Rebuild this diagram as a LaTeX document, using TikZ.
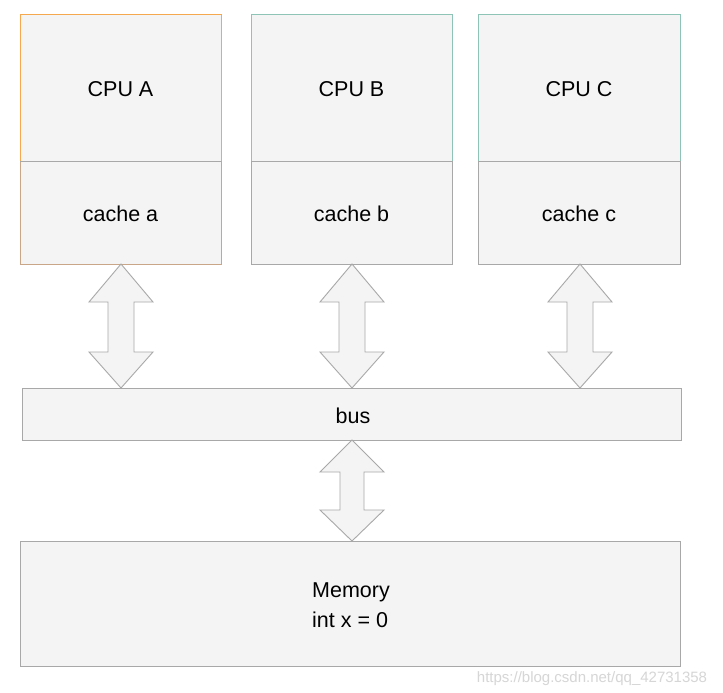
\documentclass[tikz,border=0pt]{standalone}
\usepackage{fontspec}
\setmainfont{Liberation Sans}
\definecolor{boxfill}{HTML}{F4F4F4}
\definecolor{orangeb}{HTML}{F5A84E}
\definecolor{tealb}{HTML}{8DC4B6}
\definecolor{grayb}{HTML}{A8A8A8}
\definecolor{tanb}{HTML}{C9A687}
\begin{document}
\begin{tikzpicture}[x=1pt,y=-1pt,
  blk/.style={draw=grayb,fill=boxfill,line width=1pt},
  lbl/.style={font=\fontsize{21.5}{25}\selectfont,text=black},
  arr/.style={draw=grayb,fill=boxfill,line width=0.9pt,line join=miter}]
\useasboundingbox[fill=white] (0,0) rectangle (723,693);
% CPU boxes
\foreach \nm/\xl/\xr/\col/\cc/\lt/\lc in {A/20/221/orangeb/tanb/CPU A/cache a, B/251/452/tealb/grayb/CPU B/cache b, C/478/680/tealb/grayb/CPU C/cache c}{
  \draw[blk,draw=\cc] (\xl,161) rectangle (\xr,264);
  \draw[blk,draw=\col] (\xl,161) -- (\xl,15) -- (\xr,15) -- (\xr,161);
  \draw[draw=grayb,line width=1pt] (\xl,161) -- (\xr,161);
  \node[lbl] (cpu\nm) at ({(\xl+\xr)/2},89) {\lt};
  \node[lbl] (cache\nm) at ({(\xl+\xr)/2},214) {\lc};
}
% bus
\draw[blk] (22,388) rectangle (681,440);
\node[lbl] (bus) at (353,416) {bus};
% memory
\draw[blk] (20,541) rectangle (680,666);
\node[lbl,align=left] (mem) at (351,605) {Memory\\[5pt]int x = 0};
% double arrows
\foreach \cx in {121,352,580}{
  \draw[arr] (\cx,264) -- (\cx+32,302) -- (\cx+13,302) -- (\cx+13,352) -- (\cx+32,352)
    -- (\cx,388) -- (\cx-32,352) -- (\cx-13,352) -- (\cx-13,302) -- (\cx-32,302) -- cycle;
}
\draw[arr] (352,440) -- (384,472) -- (364,472) -- (364,510) -- (384,510)
  -- (352,541) -- (320,510) -- (340,510) -- (340,472) -- (320,472) -- cycle;
% watermark
\node[font=\fontsize{15}{17}\selectfont,text=black!16] (wm) at (592,679) {https://blog.csdn.net/qq\_42731358};
\end{tikzpicture}
\end{document}
